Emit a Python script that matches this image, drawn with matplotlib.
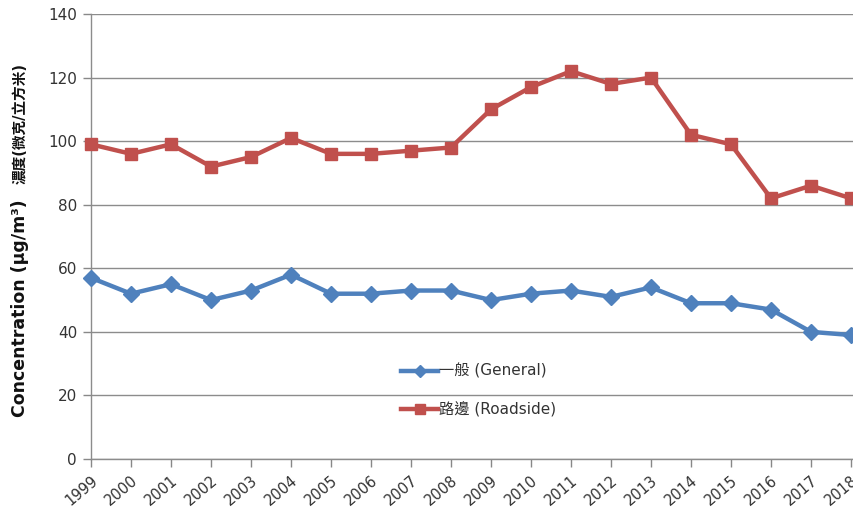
import matplotlib
matplotlib.use("Agg")
import matplotlib.pyplot as plt

plt.rcParams['font.family'] = ['DejaVu Sans', 'Noto Sans CJK TC']

years = list(range(1999, 2019))
general = [57, 52, 55, 50, 53, 58, 52, 52, 53, 53, 50, 52, 53, 51, 54, 49, 49, 47, 40, 39]
roadside = [99, 96, 99, 92, 95, 101, 96, 96, 97, 98, 110, 117, 122, 118, 120, 102, 99, 82, 86, 82]
yticks = [0, 20, 40, 60, 80, 100, 120, 140]
ylabel_en = 'Concentration (μg/m³)'
ylabel_zh = '濃度(微克/立方米)'

fig = plt.figure(figsize=(8.54, 5.15), dpi=100)
ax = fig.add_axes([91 / 854, 1 - 459 / 515, 770 / 854, 445 / 515])

ax.plot(years, general, color='#4F81BD', lw=3.2, marker='D', ms=8,
        label='一般 (General)', zorder=3, clip_on=False)
ax.plot(years, roadside, color='#C0504D', lw=3.2, marker='s', ms=9,
        label='路邊 (Roadside)', zorder=3, clip_on=False)

ax.set_xlim(1999, 2018 + 10 / 40.0)
ax.set_ylim(0, 140)
ax.set_yticks(yticks)
ax.set_xticks(years)
ax.set_xticklabels([str(y) for y in years], rotation=40, ha='right',
                   rotation_mode='anchor', fontsize=10.5, color='#333333')
ax.tick_params(axis='y', labelsize=11, colors='#333333', length=6, width=1,
               pad=4)
ax.tick_params(axis='x', length=6, width=1, color='#888888', pad=4)
ax.tick_params(axis='y', color='#888888')

ax.grid(axis='y', color='#8c8c8c', lw=1)
ax.set_axisbelow(True)
for side in ['top', 'right']:
    ax.spines[side].set_visible(False)
for side in ['left', 'bottom']:
    ax.spines[side].set_color('#8c8c8c')
    ax.spines[side].set_linewidth(1)

# y-axis title in two parts: bold latin text below, CJK above
fig.text(20 / 854, 1 - 308 / 515, ylabel_en, rotation=90, ha='center',
         va='center', fontsize=12.5, fontweight='bold', color='#111111')
fig.text(20 / 854, 1 - 124 / 515, ylabel_zh, rotation=90, ha='center',
         va='center', fontsize=10.5, fontweight='bold', color='#111111')

ax.legend(loc='upper left', bbox_to_anchor=(0.385, 0.245), frameon=False,
          fontsize=11, handlelength=2.4, handletextpad=0.1, labelspacing=1.5,
          labelcolor='#333333', markerscale=0.8)

fig.savefig('out.png', dpi=100)
